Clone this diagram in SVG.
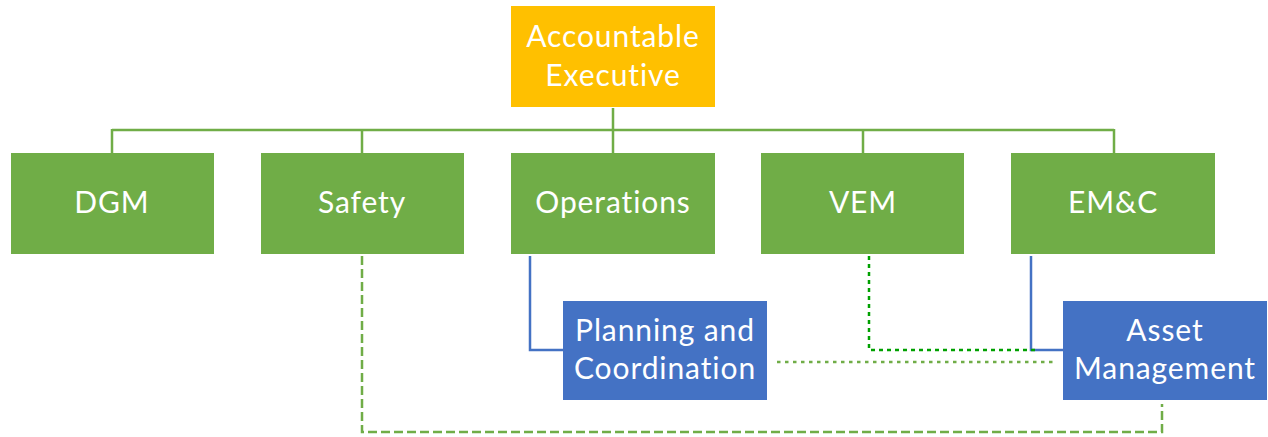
<svg xmlns="http://www.w3.org/2000/svg" width="1268" height="437" viewBox="0 0 1268 437">
<style>
.t{font-family:Lato,"Open Sans","Liberation Sans",sans-serif;font-size:30px;letter-spacing:0.9px;fill:#fff;text-anchor:middle}
.g{fill:#70AD47}
.b{fill:#4472C4}
.o{fill:#FFC000}
.c{fill:none;stroke-width:2.5}
</style>
<rect width="1268" height="437" fill="#fff"/>
<g id="connectors">
<path class="c" stroke="#70AD47" d="M613 108V153M112 130H1114M112 129V153M362 129V153M863 129V153M1114 129V153"/>
<path class="c" stroke="#4472C4" d="M530 256V350H563M1031 256V350H1063"/>
<path class="c" stroke="#00A000" stroke-width="4" stroke-dasharray="4 4" d="M869 256V350H1037"/>
<path class="c" stroke="#70AD47" stroke-width="3.5" stroke-dasharray="3.5 4.5" d="M777 362H1055"/>
<path class="c" stroke="#70AD47" stroke-dasharray="9 4" d="M362 256V432H1162V404"/>
</g>
<g id="accountable-executive"><rect class="o" x="511" y="6" width="204" height="101"/><text class="t" x="613" y="47">Accountable</text><text class="t" x="613" y="86">Executive</text></g>
<g id="dgm"><rect class="g" x="11" y="153" width="203" height="101"/><text class="t" x="112" y="213">DGM</text></g>
<g id="safety"><rect class="g" x="261" y="153" width="203" height="101"/><text class="t" x="362" y="213">Safety</text></g>
<g id="operations"><rect class="g" x="511" y="153" width="204" height="101"/><text class="t" x="613" y="213">Operations</text></g>
<g id="vem"><rect class="g" x="761" y="153" width="203" height="101"/><text class="t" x="863" y="213">VEM</text></g>
<g id="emc"><rect class="g" x="1011" y="153" width="204" height="101"/><text class="t" x="1113" y="213">EM&amp;C</text></g>
<g id="planning"><rect class="b" x="563" y="301" width="204" height="99"/><text class="t" x="665" y="341">Planning and</text><text class="t" x="665" y="379">Coordination</text></g>
<g id="asset"><rect class="b" x="1063" y="301" width="204" height="99"/><text class="t" x="1165" y="341">Asset</text><text class="t" x="1165" y="379">Management</text></g>
</svg>
